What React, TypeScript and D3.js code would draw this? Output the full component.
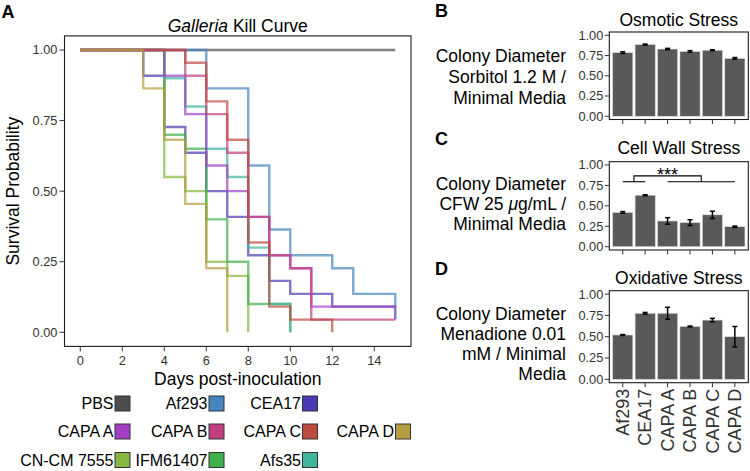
import React from 'react';
import * as d3 from 'd3';

// strains in legend order + colours
const strains = ['PBS', 'Af293', 'CEA17', 'CAPA A', 'CAPA B', 'CAPA C', 'CAPA D', 'CN-CM 7555', 'IFM61407', 'Afs35'];
const strainColors = ['#4d4d4d', '#4584be', '#4a3bb4', '#a23fc4', '#c0407f', '#bf4b3f', '#b59e3f', '#86b83f', '#3fb04b', '#3fb59e'];

// kill curves: [day, survival]
const pbs = [[0, 1], [15, 1]];
const af293 = [[0, 1], [6, 0.864], [8, 0.591], [9, 0.364], [10, 0.273], [12, 0.227], [13, 0.136], [15, 0.091]];
const cea17 = [[0, 1], [3, 0.909], [4, 0.727], [5, 0.636], [6, 0.5], [7, 0.409], [8, 0.273], [9, 0.182], [10, 0.136], [12, 0.091], [15, 0.045]];
const capaA = [[0, 1], [4, 0.909], [5, 0.773], [6, 0.591], [7, 0.5], [8, 0.409], [9, 0.273], [10, 0.227], [11, 0.091], [15, 0.091]];
const capaB = [[0, 1], [5, 0.909], [6, 0.773], [7, 0.636], [8, 0.409], [9, 0.273], [10, 0.227], [11, 0.045], [15, 0.045]];
const capaC = [[0, 1], [5, 0.955], [6, 0.818], [7, 0.682], [8, 0.318], [9, 0.091], [10, 0.045], [12, 0]];
const capaD = [[0, 1], [3, 0.864], [4, 0.682], [5, 0.455], [6, 0.227], [7, 0]];
const cncm7555 = [[0, 1], [4, 0.55], [5, 0.5], [6, 0.25], [7, 0.2], [8, 0]];
const ifm61407 = [[0, 1], [4, 0.7], [5, 0.65], [6, 0.4], [7, 0.25], [8, 0.1], [10, 0]];
const afs35 = [[0, 1], [4, 0.9], [5, 0.8], [6, 0.65], [7, 0.55], [8, 0.3], [9, 0.1], [10, 0]];

const curves: Record<string, number[][]> = {
  'PBS': pbs, 'Af293': af293, 'CEA17': cea17, 'CAPA A': capaA, 'CAPA B': capaB,
  'CAPA C': capaC, 'CAPA D': capaD, 'CN-CM 7555': cncm7555, 'IFM61407': ifm61407, 'Afs35': afs35,
};
const drawOrder = ['PBS', 'Af293', 'CEA17', 'CN-CM 7555', 'IFM61407', 'Afs35', 'CAPA A', 'CAPA B', 'CAPA C', 'CAPA D'];
const legendRows = [['PBS', 'Af293', 'CEA17'], ['CAPA A', 'CAPA B', 'CAPA C', 'CAPA D'], ['CN-CM 7555', 'IFM61407', 'Afs35']];

const dayTicks = [0, 2, 4, 6, 8, 10, 12, 14];
const probTicks = [0, 0.25, 0.5, 0.75, 1];

// stress assays
const barStrains = ['Af293', 'CEA17', 'CAPA A', 'CAPA B', 'CAPA C', 'CAPA D'];
const osmoticMean = [0.785, 0.885, 0.83, 0.80, 0.815, 0.715];
const osmoticErr = [0.01, 0.006, 0.008, 0.01, 0.006, 0.01];
const cellWallMean = [0.42, 0.63, 0.315, 0.295, 0.39, 0.245];
const cellWallErr = [0.01, 0.006, 0.04, 0.035, 0.045, 0.008];
const oxidativeMean = [0.52, 0.775, 0.775, 0.62, 0.695, 0.50];
const oxidativeErr = [0.005, 0.01, 0.07, 0.005, 0.02, 0.12];

const FONT = 'Liberation Sans, Arial, Helvetica, sans-serif';
const colorOf = (s: string) => strainColors[strains.indexOf(s)];

// panel A scales
const xA = d3.scaleLinear().domain([-0.75, 15.75]).range([64.5, 411]);
const yA = d3.scaleLinear().domain([-0.05, 1.05]).range([346.4, 35.9]);
const stepLine = d3.line<number[]>().x(d => xA(d[0])).y(d => yA(d[1])).curve(d3.curveStepAfter);

const xB = d3.scalePoint<string>().domain(barStrains).range([609.3, 748.3]).padding(0.6);
const barW = xB.step() * 0.9;

type BarPanelProps = {
  top: number; bottom: number; title: string; titleY: number;
  letter: string; letterY: number;
  yLines: React.ReactNode[]; yLineY: number[];
  means: number[]; errs: number[];
  showLabels?: boolean; children?: (y: d3.ScaleLinear<number, number>) => React.ReactNode;
};

const BarPanel = ({ top, bottom, title, titleY, letter, letterY, yLines, yLineY, means, errs, showLabels, children }: BarPanelProps) => {
  const y = d3.scaleLinear().domain([-0.04, 1.04]).range([bottom, top]);
  const [l, r] = xB.range();
  return (
    <g>
      <text x={435} y={letterY} fontSize={18} fontWeight="bold" fill="#000">{letter}</text>
      <text x={(l + r) / 2} y={titleY} textAnchor="middle" fontSize={17.5} fill="#000">{title}</text>
      {yLines.map((t, i) => (
        <text key={i} x={566} y={yLineY[i]} textAnchor="end" fontSize={17.5} fill="#000">{t}</text>
      ))}
      {means.map((m, i) => {
        const cx = xB(barStrains[i])!;
        return (
          <g key={i}>
            <rect x={cx - barW / 2} y={y(m)} width={barW} height={y(0) - y(m)} fill="#595959" stroke="#dcdcdc" strokeWidth={0.6} />
            <line x1={cx} x2={cx} y1={y(m + errs[i])} y2={y(m - errs[i])} stroke="#000" strokeWidth={1.5} />
            <line x1={cx - 2.5} x2={cx + 2.5} y1={y(m + errs[i])} y2={y(m + errs[i])} stroke="#000" strokeWidth={1.5} />
            <line x1={cx - 2.5} x2={cx + 2.5} y1={y(m - errs[i])} y2={y(m - errs[i])} stroke="#000" strokeWidth={1.5} />
          </g>
        );
      })}
      {children && children(y)}
      <rect x={l} y={top} width={r - l} height={bottom - top} fill="none" stroke="#1a1a1a" strokeWidth={1.1} />
      {probTicks.map(t => (
        <g key={t}>
          <line x1={l - 4.5} x2={l} y1={y(t)} y2={y(t)} stroke="#333" strokeWidth={1} />
          <text x={l - 6} y={y(t)} dy="0.35em" textAnchor="end" fontSize={12.8} fill="#333">{t.toFixed(2)}</text>
        </g>
      ))}
      {barStrains.map(s => (
        <g key={s}>
          <line x1={xB(s)} x2={xB(s)} y1={bottom} y2={bottom + 4.5} stroke="#333" strokeWidth={1} />
          {showLabels && (
            <text transform={`translate(${xB(s)},${bottom + 6}) rotate(-90)`} textAnchor="end" dy="0.35em" fontSize={18} fill="#333">{s}</text>
          )}
        </g>
      ))}
    </g>
  );
};

const App = () => {
  const [l, r] = xA.range();
  const [b, t] = yA.range();
  return (
    <svg width={750} height={471} style={{ position: 'absolute', left: 0, top: 0, display: 'block', background: '#fff' }} fontFamily={FONT}>
      <rect width={750} height={471} fill="#fff" />
      {/* panel A */}
      <text x={1.5} y={17.5} fontSize={18} fontWeight="bold" fill="#000">A</text>
      <text x={(l + r) / 2} y={31.5} textAnchor="middle" fontSize={17.5} fill="#000">
        <tspan fontStyle="italic">Galleria</tspan> Kill Curve
      </text>
      {drawOrder.map(s => (
        <path key={s} d={stepLine(curves[s])!} fill="none" stroke={colorOf(s)} strokeOpacity={0.7} strokeWidth={2.4} />
      ))}
      <rect x={l} y={t} width={r - l} height={b - t} fill="none" stroke="#1a1a1a" strokeWidth={1.1} />
      {probTicks.map(v => (
        <g key={v}>
          <line x1={l - 5} x2={l} y1={yA(v)} y2={yA(v)} stroke="#333" />
          <text x={l - 7} y={yA(v)} dy="0.35em" textAnchor="end" fontSize={12.8} fill="#333">{v.toFixed(2)}</text>
        </g>
      ))}
      {dayTicks.map(d => (
        <g key={d}>
          <line x1={xA(d)} x2={xA(d)} y1={b} y2={b + 5} stroke="#333" />
          <text x={xA(d)} y={b + 19} textAnchor="middle" fontSize={12.8} fill="#333">{d}</text>
        </g>
      ))}
      <text x={(l + r) / 2} y={385} textAnchor="middle" fontSize={17.5} fill="#000">Days post-inoculation</text>
      <text transform={`translate(18.5,${(t + b) / 2}) rotate(-90)`} textAnchor="middle" fontSize={17.5} fill="#000">Survival Probability</text>

      {/* legend */}
      {legendRows.map((row, ri) => row.map((s, ci) => {
        const kx = [115, 209, 302.5, 395.5][ci];
        const ky = [403.5, 431.5, 460][ri];
        return (
          <g key={s}>
            <rect x={kx} y={ky - 7.5} width={15} height={15} fill={colorOf(s)} stroke="#333" strokeWidth={1} />
            <text x={kx - 1.5} y={ky} dy="0.35em" textAnchor="end" fontSize={16} fill="#000">{s}</text>
          </g>
        );
      }))}

      {/* panel B */}
      <BarPanel top={32} bottom={119.5} title="Osmotic Stress" titleY={26} letter="B" letterY={17}
        yLines={['Colony Diameter', 'Sorbitol 1.2 M /', 'Minimal Media']} yLineY={[61.5, 83, 103.5]}
        means={osmoticMean} errs={osmoticErr} />

      {/* panel C */}
      <BarPanel top={161.7} bottom={250} title="Cell Wall Stress" titleY={154} letter="C" letterY={145}
        yLines={['Colony Diameter', <>CFW 25 <tspan fontStyle="italic">μ</tspan>g/mL /</>, 'Minimal Media']} yLineY={[190, 210, 230]}
        means={cellWallMean} errs={cellWallErr}>
        {(y) => {
          const lo = y(0.795), hi = y(0.867);
          const m1 = (xB('Af293')! + xB('CEA17')!) / 2;
          const m2 = (xB('CAPA A')! + xB('CAPA D')!) / 2;
          return (
            <g stroke="#000" strokeWidth={1.1} fill="none">
              <line x1={xB('Af293')} x2={xB('CEA17')} y1={lo} y2={lo} />
              <line x1={xB('CAPA A')} x2={xB('CAPA D')} y1={lo} y2={lo} />
              <path d={`M${m1},${lo}V${hi}H${m2}V${lo}`} />
              <text x={(m1 + m2) / 2} y={181} textAnchor="middle" fontSize={18} fill="#000" stroke="none">***</text>
            </g>
          );
        }}
      </BarPanel>

      {/* panel D */}
      <BarPanel top={290.7} bottom={382.7} title="Oxidative Stress" titleY={284} letter="D" letterY={275}
        yLines={['Colony Diameter', 'Menadione 0.01', 'mM / Minimal', 'Media']} yLineY={[320, 340, 360, 380]}
        means={oxidativeMean} errs={oxidativeErr} showLabels />
    </svg>
  );
};

export default App;
